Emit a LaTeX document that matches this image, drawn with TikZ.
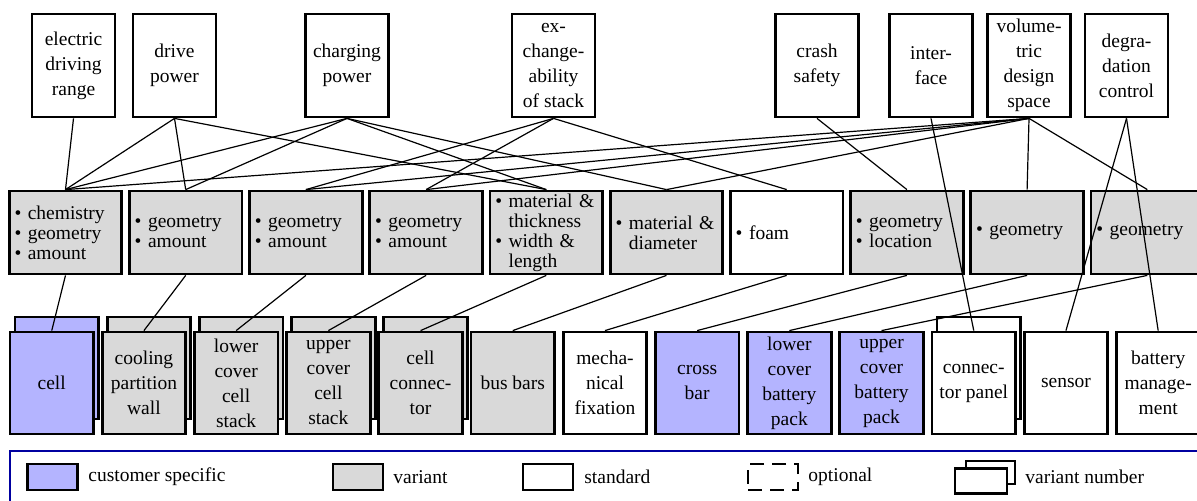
\documentclass[tikz,border=0pt]{standalone}
\usepackage{fontspec}
\setmainfont{Liberation Serif}
\usepackage{tikz}
\usetikzlibrary{arrows}
\definecolor{custblue}{RGB}{180,180,255}
\definecolor{vargray}{RGB}{217,217,217}
\definecolor{legblue}{RGB}{0,0,160}
\newcommand{\bul}{\textbullet\ }
\newcommand{\bulsp}{\hphantom{\textbullet\ }}

\begin{document}
\begin{tikzpicture}[x=0.5pt,y=-0.5pt,line width=0.6pt]
\tikzstyle{every node}=[inner sep=0pt, line width=1.4pt]
\tikzstyle{req}=[draw, fill=white, minimum width=41.5pt, minimum height=51.5pt, align=center, font=\fontsize{9.75}{12.5}\selectfont]
\tikzstyle{prop}=[draw, minimum width=56.25pt, minimum height=41.5pt, text width=51pt, inner xsep=2.6pt, align=left, font=\fontsize{9.75}{10}\selectfont]
\tikzstyle{comp}=[draw, minimum width=41.75pt, minimum height=51pt, align=center, font=\fontsize{9.75}{12.5}\selectfont]
\tikzstyle{swatch}=[draw, minimum width=25pt, minimum height=13pt]
\tikzstyle{legtext}=[anchor=west, font=\fontsize{9.75}{12}\selectfont]
\useasboundingbox (0,0) rectangle (1197,501);
\clip (0,0) rectangle (1197,501);
\draw (73.5,65.5) node (r1) [req] {electric\\driving\\range};
\draw (174.5,65.5) node (r2) [req] {drive\\power};
\draw (347,65.5) node (r3) [req] {charging\\power};
\draw (553.5,65.5) node (r4) [req] {ex-\\change-\\ability\\of stack};
\draw (817,65.5) node (r5) [req] {crash\\safety};
\draw (931,65.5) node (r6) [req] {inter-\\face};
\draw (1029,65.5) node (r7) [req] {volume-\\tric\\design\\space};
\draw (1126.5,65.5) node (r8) [req] {degra-\\dation\\control};
\draw (65.5,232.5) node (p1) [prop,fill=vargray] {\bul chemistry\\\bul geometry\\\bul amount};
\draw (185.7,232.5) node (p2) [prop,fill=vargray] {\bul geometry\\\bul amount};
\draw (305.9,232.5) node (p3) [prop,fill=vargray] {\bul geometry\\\bul amount};
\draw (426.1,232.5) node (p4) [prop,fill=vargray] {\bul geometry\\\bul amount};
\draw (546.3,232.5) node (p5) [prop,fill=vargray] {\bul material \&\\\bulsp thickness\\\bul width \&\\\bulsp length};
\draw (666.5,232.5) node (p6) [prop,fill=vargray] {\bul material \&\\\bulsp diameter};
\draw (786.7,232.5) node (p7) [prop,fill=white] {\bul foam};
\draw (906.9,232.5) node (p8) [prop,fill=vargray] {\bul geometry\\\bul location};
\draw (1027.1,232.5) node (p9) [prop,fill=vargray] {\bul geometry};
\draw (1147.3,232.5) node (p10) [prop,fill=vargray] {\bul geometry};
\draw (56.75,368) node (c1b) [comp,fill=custblue] {};
\draw (148.95,368) node (c2b) [comp,fill=vargray] {};
\draw (241.15,368) node (c3b) [comp,fill=vargray] {};
\draw (333.35,368) node (c4b) [comp,fill=vargray] {};
\draw (425.55,368) node (c5b) [comp,fill=vargray] {};
\draw (978.75,368) node (c11b) [comp,fill=white] {};
\draw (51.75,383) node (c1) [comp,fill=custblue] {cell};
\draw (143.95,383) node (c2) [comp,fill=vargray] {cooling\\partition\\wall};
\draw (236.15,383) node (c3) [comp,fill=vargray] {lower\\cover\\cell\\stack};
\draw (328.35,383) node (c4) [comp,fill=vargray] {upper\\cover\\cell\\stack};
\draw (420.55,383) node (c5) [comp,fill=vargray] {cell\\connec-\\tor};
\draw (512.75,383) node (c6) [comp,fill=vargray] {bus bars};
\draw (604.95,383) node (c7) [comp,fill=white] {mecha-\\nical\\fixation};
\draw (697.15,383) node (c8) [comp,fill=custblue] {cross\\bar};
\draw (789.35,383) node (c9) [comp,fill=custblue] {lower\\cover\\battery\\pack};
\draw (881.55,383) node (c10) [comp,fill=custblue] {upper\\cover\\battery\\pack};
\draw (973.75,383) node (c11) [comp,fill=white] {connec-\\tor panel};
\draw (1065.95,383) node (c12) [comp,fill=white] {sensor};
\draw (1158.15,383) node (c13) [comp,fill=white] {battery\\manage-\\ment};
\draw (r1.south) -- (p1.north);
\draw (r2.south) -- (p1.north);
\draw (r2.south) -- (p2.north);
\draw (r2.south) -- (p5.north);
\draw (r3.south) -- (p1.north);
\draw (r3.south) -- (p2.north);
\draw (r3.south) -- (p5.north);
\draw (r3.south) -- (p6.north);
\draw (r4.south) -- (p3.north);
\draw (r4.south) -- (p4.north);
\draw (r4.south) -- (p7.north);
\draw (r5.south) -- (p8.north);
\draw (r6.south) -- (c11.north);
\draw (r7.south) -- (p1.north);
\draw (r7.south) -- (p3.north);
\draw (r7.south) -- (p4.north);
\draw (r7.south) -- (p6.north);
\draw (r7.south) -- (p9.north);
\draw (r7.south) -- (p10.north);
\draw (r8.south) -- (c12.north);
\draw (r8.south) -- (c13.north);
\draw (p1.south) -- (c1.north);
\draw (p2.south) -- (c2.north);
\draw (p3.south) -- (c3.north);
\draw (p4.south) -- (c4.north);
\draw (p5.south) -- (c5.north);
\draw (p6.south) -- (c6.north);
\draw (p7.south) -- (c7.north);
\draw (p8.south) -- (c8.north);
\draw (p9.south) -- (c9.north);
\draw (p10.south) -- (c10.north);
\draw [legblue, line width=1pt] (10,451) rectangle (1240,560);
\draw (52.5,477) node (l1) [swatch,fill=custblue] {};
\draw (87,477) node (l1t) [legtext] {customer specific};
\draw (358,477) node (l2) [swatch,fill=vargray] {};
\draw (392,477) node (l2t) [legtext] {variant};
\draw (548,477) node (l3) [swatch,fill=white] {};
\draw (583,477) node (l3t) [legtext] {standard};
\draw (773,477) node (l4) [swatch,dash pattern=on 7pt off 4pt] {};
\draw (807,477) node (l4t) [legtext] {optional};
\draw (990.5,472.5) node (l5b) [draw, minimum width=24.5pt, minimum height=11.5pt] {};
\draw (981,481) node (l5) [draw, fill=white, minimum width=26pt, minimum height=12.5pt] {};
\draw (1024,477) node (l5t) [legtext] {variant number};
\end{tikzpicture}
\end{document}
